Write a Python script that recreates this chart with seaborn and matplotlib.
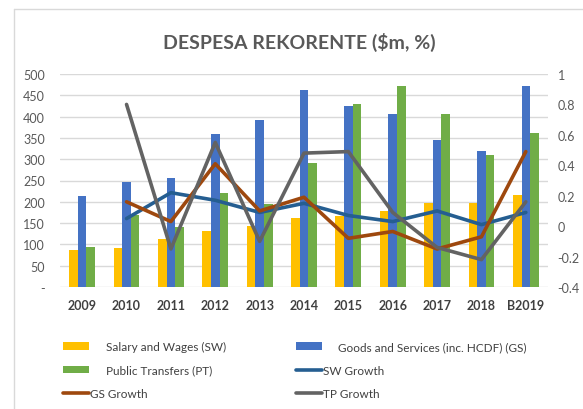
import numpy as np
import pandas as pd
import matplotlib
matplotlib.use("Agg")
import matplotlib.pyplot as plt
import seaborn as sns
from matplotlib.patches import Patch
from matplotlib.lines import Line2D

# ---- data ----
years = ["2009", "2010", "2011", "2012", "2013", "2014", "2015", "2016", "2017", "2018", "B2019"]
salary_wages = [88, 92, 113, 131, 143, 162, 166, 178, 197, 197, 215]
goods_services = [213, 247, 255, 358, 392, 463, 424, 407, 345, 319, 473]
public_transfers = [93, 170, 142, 221, 196, 291, 430, 471, 405, 311, 362]
sw_growth = [np.nan, 0.05, 0.22, 0.17, 0.09, 0.15, 0.07, 0.03, 0.10, 0.01, 0.09]
gs_growth = [np.nan, 0.16, 0.03, 0.41, 0.10, 0.19, -0.08, -0.035, -0.15, -0.07, 0.49]
tp_growth = [np.nan, 0.80, -0.15, 0.55, -0.10, 0.48, 0.49, 0.09, -0.14, -0.22, 0.16]

bar_names = ["Salary and Wages (SW)", "Goods and Services (inc. HCDF) (GS)", "Public Transfers (PT)"]
bar_colors = ["#FFC000", "#4472C4", "#70AD47"]
line_names = ["SW Growth", "GS Growth", "TP Growth"]
line_colors = ["#255E91", "#9E480E", "#636363"]
left_ticks = [0, 50, 100, 150, 200, 250, 300, 350, 400, 450, 500]
left_labels = ["-", "50", "100", "150", "200", "250", "300", "350", "400", "450", "500"]
right_ticks = [-0.4, -0.2, 0, 0.2, 0.4, 0.6, 0.8, 1.0]
right_labels = ["-0.4", "-0.2", "0", "0.2", "0.4", "0.6", "0.8", "1"]

bars_df = pd.DataFrame({
    "Year": years * 3,
    "Series": sum([[n] * len(years) for n in bar_names], []),
    "Value": salary_wages + goods_services + public_transfers,
})
lines_df = pd.DataFrame({
    "pos": list(range(len(years))) * 3,
    "Series": sum([[n] * len(years) for n in line_names], []),
    "Value": sw_growth + gs_growth + tp_growth,
})

# ---- style ----
sns.set_theme(style="white")
plt.rcParams["font.family"] = ["Lato", "DejaVu Sans"]
txt = "#595959"
fs = 9
lfs = 8.5

W, H = 583, 410
fig = plt.figure(figsize=(W / 100, H / 100), dpi=100)
ax = fig.add_axes([60 / W, 1 - 288 / H, (548 - 60) / W, (288 - 75) / H])

sns.barplot(data=bars_df, x="Year", y="Value", hue="Series", order=years,
            hue_order=bar_names, palette=bar_colors, width=0.58, dodge=True,
            saturation=1, legend=False, ax=ax, linewidth=0)

ax.set_ylim(0, 500)
ax.set_xlim(-0.5, len(years) - 0.5)
ax.set_yticks(left_ticks)
ax.set_yticklabels(left_labels)
ax.yaxis.grid(True, color="#D9D9D9", linewidth=1)
ax.set_axisbelow(True)
for s in ax.spines.values():
    s.set_visible(False)
ax.set_xlabel("")
ax.set_ylabel("")
ax.tick_params(axis="y", length=0, pad=11, labelsize=fs, labelcolor=txt)
ax.tick_params(axis="x", length=0, pad=9, labelsize=fs, labelcolor="#404040")
for lab in ax.get_xticklabels():
    lab.set_fontweight("bold")

ax2 = ax.twinx()
sns.lineplot(data=lines_df, x="pos", y="Value", hue="Series", hue_order=line_names,
             palette=line_colors, linewidth=2.6, legend=False, ax=ax2, sort=False)
ax2.set_ylim(-0.4, 1.0)
ax2.set_xlim(-0.5, len(years) - 0.5)
ax2.set_yticks(right_ticks)
ax2.set_yticklabels(right_labels)
ax2.set_xlabel("")
ax2.set_ylabel("")
for s in ax2.spines.values():
    s.set_visible(False)
ax2.tick_params(axis="y", length=0, pad=7, labelsize=fs, labelcolor=txt)
ax2.grid(False)

# title
fig.text(299 / W, 1 - 42 / H, "DESPESA REKORENTE ($m, %)", ha="center", va="center",
         fontsize=14, fontweight="bold", color=txt)

# outer frame lines (top and left)
fig.add_artist(Line2D([14 / W, 1], [1 - 9.5 / H, 1 - 9.5 / H], transform=fig.transFigure,
                      color="#D9D9D9", linewidth=1))
fig.add_artist(Line2D([14 / W, 14 / W], [0, 1 - 9.5 / H], transform=fig.transFigure,
                      color="#D9D9D9", linewidth=1))

# legends
def patch(i):
    return Patch(facecolor=bar_colors[i], edgecolor="none")

def line(i):
    return Line2D([], [], color=line_colors[i], linewidth=2.6)

common = dict(frameon=False, fontsize=lfs, labelcolor="#404040", handlelength=2.2,
              handleheight=0.6, borderpad=0, borderaxespad=0, labelspacing=1.05,
              loc="upper left")
row_top = [342, 366, 389]
fig.legend([patch(0), patch(2)], [bar_names[0], bar_names[2]],
           bbox_to_anchor=(63 / W, 1 - row_top[0] / H), handletextpad=1.4, **common)
fig.legend([line(1)], [line_names[1]],
           bbox_to_anchor=(63 / W, 1 - row_top[2] / H), handletextpad=0.1, **common)
fig.legend([patch(1)], [bar_names[1]],
           bbox_to_anchor=(296 / W, 1 - row_top[0] / H), handletextpad=1.4, **common)
fig.legend([line(0), line(2)], [line_names[0], line_names[2]],
           bbox_to_anchor=(296 / W, 1 - row_top[1] / H), handletextpad=0.1, **common)

fig.savefig("out.png", dpi=100, facecolor="white")
